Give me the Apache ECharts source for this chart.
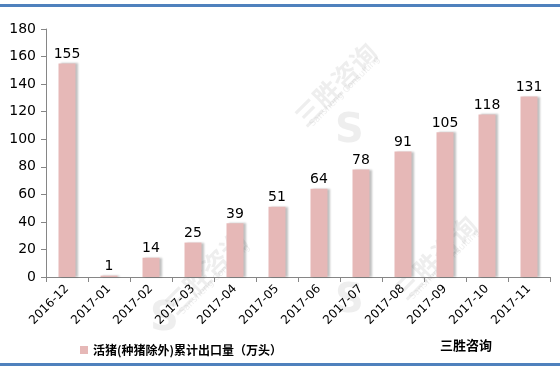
<!DOCTYPE html>
<html>
<head>
<meta charset="utf-8">
<script src="https://cdn.jsdelivr.net/npm/echarts@6/dist/echarts.min.js"></script>
<style>
html,body{margin:0;padding:0;background:#fff;}
#c{width:560px;height:369px;}
</style>
</head>
<body>
<div id="c"></div>
<script>
const categories = ['2016-12','2017-01','2017-02','2017-03','2017-04','2017-05','2017-06','2017-07','2017-08','2017-09','2017-10','2017-11'];
const values = [155, 1, 14, 25, 39, 51, 64, 78, 91, 105, 118, 131];
const yTicks = [0, 20, 40, 60, 80, 100, 120, 140, 160, 180];
const seriesName = '活猪(种猪除外)累计出口量（万头）';
const sourceText = '三胜咨询';

const chart = echarts.init(document.getElementById('c'), null, {renderer: 'canvas'});
const wmColor = 'rgba(150,150,150,0.16)';
const wmStyle = {fill: wmColor, font: 'bold 26px "Noto Sans CJK SC"'};
const wmSub = {fill: wmColor, font: '9px "DejaVu Sans"'};
const wmLogo = {text: 'S', fill: wmColor, font: 'bold 40px "DejaVu Sans"'};
chart.setOption({
  animation: false,
  textStyle: {fontFamily: '"Noto Sans CJK SC", "DejaVu Sans", sans-serif'},
  grid: {left: 46, right: 10, top: 29, bottom: 92, containLabel: false},
  legend: {
    left: 75, top: 339, itemWidth: 8, itemHeight: 8, itemGap: 5,
    icon: 'rect',
    textStyle: {fontSize: 12, color: '#000', fontWeight: 'bold', fontFamily: '"Noto Sans CJK SC"'},
    data: [seriesName]
  },
  xAxis: {
    type: 'category', data: categories,
    axisLine: {lineStyle: {color: '#868686'}},
    axisTick: {show: true, alignWithLabel: false, lineStyle: {color: '#868686'}, length: 5},
    axisLabel: {rotate: 45, fontSize: 12, color: '#000', margin: 10, interval: 0, fontFamily: '"DejaVu Sans"'}
  },
  yAxis: {
    type: 'value', min: yTicks[0], max: yTicks[yTicks.length - 1], interval: 20,
    axisLine: {show: true, lineStyle: {color: '#868686'}},
    axisTick: {show: true, lineStyle: {color: '#868686'}, length: 5},
    splitLine: {show: false},
    axisLabel: {fontSize: 14, color: '#000', margin: 10, fontFamily: '"DejaVu Sans"'}
  },
  series: [{
    name: seriesName, type: 'bar', data: values, barWidth: 17,
    itemStyle: {color: '#e6b8b7', shadowColor: 'rgba(0,0,0,0.25)', shadowOffsetX: 2, shadowOffsetY: 0, shadowBlur: 2},
    label: {show: true, position: 'top', fontSize: 14, color: '#000', distance: 2, fontFamily: '"DejaVu Sans"'}
  }],
  graphic: [
    {type: 'rect', left: 0, top: 4, shape: {width: 560, height: 3}, style: {fill: '#4f81bd'}},
    {type: 'rect', left: 0, top: 363, shape: {width: 560, height: 3}, style: {fill: '#4f81bd'}},
    {type: 'text', left: 440, top: 339, style: {text: sourceText, fill: '#000', font: 'bold 13px "Noto Sans CJK SC"'}},
    {type: 'text', x: 290, y: 112, rotation: Math.PI / 4, style: Object.assign({text: '三胜咨询'}, wmStyle)},
    {type: 'text', x: 308, y: 122, rotation: Math.PI / 4, style: Object.assign({text: 'Sansheng Consulting'}, wmSub)},
    {type: 'text', x: 335, y: 112, style: wmLogo},
    {type: 'text', x: 160, y: 300, rotation: Math.PI / 4, style: Object.assign({text: '三胜咨询'}, wmStyle)},
    {type: 'text', x: 178, y: 310, rotation: Math.PI / 4, style: Object.assign({text: 'Sansheng Consulting'}, wmSub)},
    {type: 'text', x: 150, y: 300, style: wmLogo},
    {type: 'text', x: 390, y: 285, rotation: Math.PI / 4, style: Object.assign({text: '三胜咨询'}, wmStyle)},
    {type: 'text', x: 408, y: 295, rotation: Math.PI / 4, style: Object.assign({text: 'Sansheng Consulting'}, wmSub)},
    {type: 'text', x: 335, y: 282, style: wmLogo}
  ]
});
</script>
</body>
</html>
